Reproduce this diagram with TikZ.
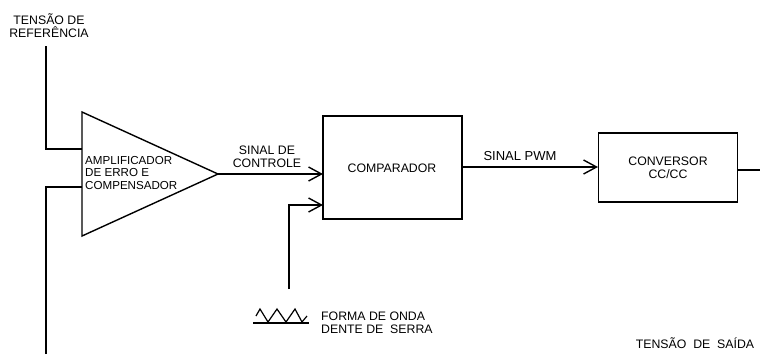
\documentclass[tikz,border=0pt]{standalone}
\usepackage{fontspec}
\setmainfont{Liberation Sans}
\usetikzlibrary{arrows.meta}
\begin{document}
\begin{tikzpicture}[x=1pt,y=-1pt,
  wire/.style={line width=1.4pt},
  arr/.style={wire,-{Straight Barb[length=13pt,width=14pt,line width=1.4pt]}},
  lbl/.style={font=\fontsize{12.3}{13}\selectfont,align=center,inner sep=0pt},
  blk/.style={draw,line width=1.4pt,inner sep=0pt}]
\useasboundingbox (0,0) rectangle (760,354);
% triangle amplifier
\coordinate (tA) at (82,112);
\coordinate (tB) at (82,236);
\coordinate (tC) at (218,174);
\draw[wire,line join=miter] (tA) -- (tC) -- (tB) -- cycle;
\node[lbl,anchor=west,align=left,font=\fontsize{11.6}{12.6}\selectfont] (amp) at (85,173) {AMPLIFICADOR\\DE ERRO E\\COMPENSADOR};
% reference input
\node[lbl] (ref) at (49,26) {TENSÃO DE\\REFERÊNCIA};
\coordinate (r0) at (46,46);
\coordinate (r1) at (82,149);
\draw[wire] (r0) |- (r1);
% feedback
\coordinate (f0) at (46,354);
\coordinate (f1) at (82,187);
\draw[wire] (f0) |- (f1);
% comparator
\node[blk,minimum width=139pt,minimum height=103pt] (comp) at (392.5,167.5) {};
\node[lbl] (comptxt) at (392,168) {COMPARADOR};
\coordinate (cin1) at (323,174);
\coordinate (cin2) at (323,205);
\draw[arr] (tC) -- (cin1);
\node[lbl] (sc) at (267,157) {SINAL DE\\CONTROLE};
\coordinate (s0) at (289,289);
\draw[arr] (s0) |- (cin2);
% sawtooth
\coordinate (sb0) at (253,323);
\coordinate (sb1) at (309,323);
\draw[wire] (sb0) -- (sb1);
\draw[line width=1.2pt,line join=miter] (256,316) -- (260,309) -- (268,322) -- (277,309) -- (286,322) -- (295,309) -- (302,322) -- (307,316);
\node[lbl,anchor=west,align=left] (saw) at (321,323) {FORMA DE ONDA\\DENTE DE\ \ SERRA};
% converter
\node[blk,minimum width=139pt,minimum height=69pt] (conv) at (668,167.5) {};
\node[lbl] (convtxt) at (668,168) {CONVERSOR\\CC/CC};
\coordinate (pwm0) at (462,167);
\coordinate (pwm1) at (598,167);
\draw[arr] (pwm0) -- (pwm1);
\node[lbl,font=\fontsize{13}{14}\selectfont] (pwm) at (520,156) {SINAL PWM};
\coordinate (o0) at (738,170);
\coordinate (o1) at (760,170);
\draw[wire] (o0) -- (o1);
\node[lbl] (out) at (695,343) {TENSÃO\ \ DE\ \ SAÍDA};
\end{tikzpicture}
\end{document}
